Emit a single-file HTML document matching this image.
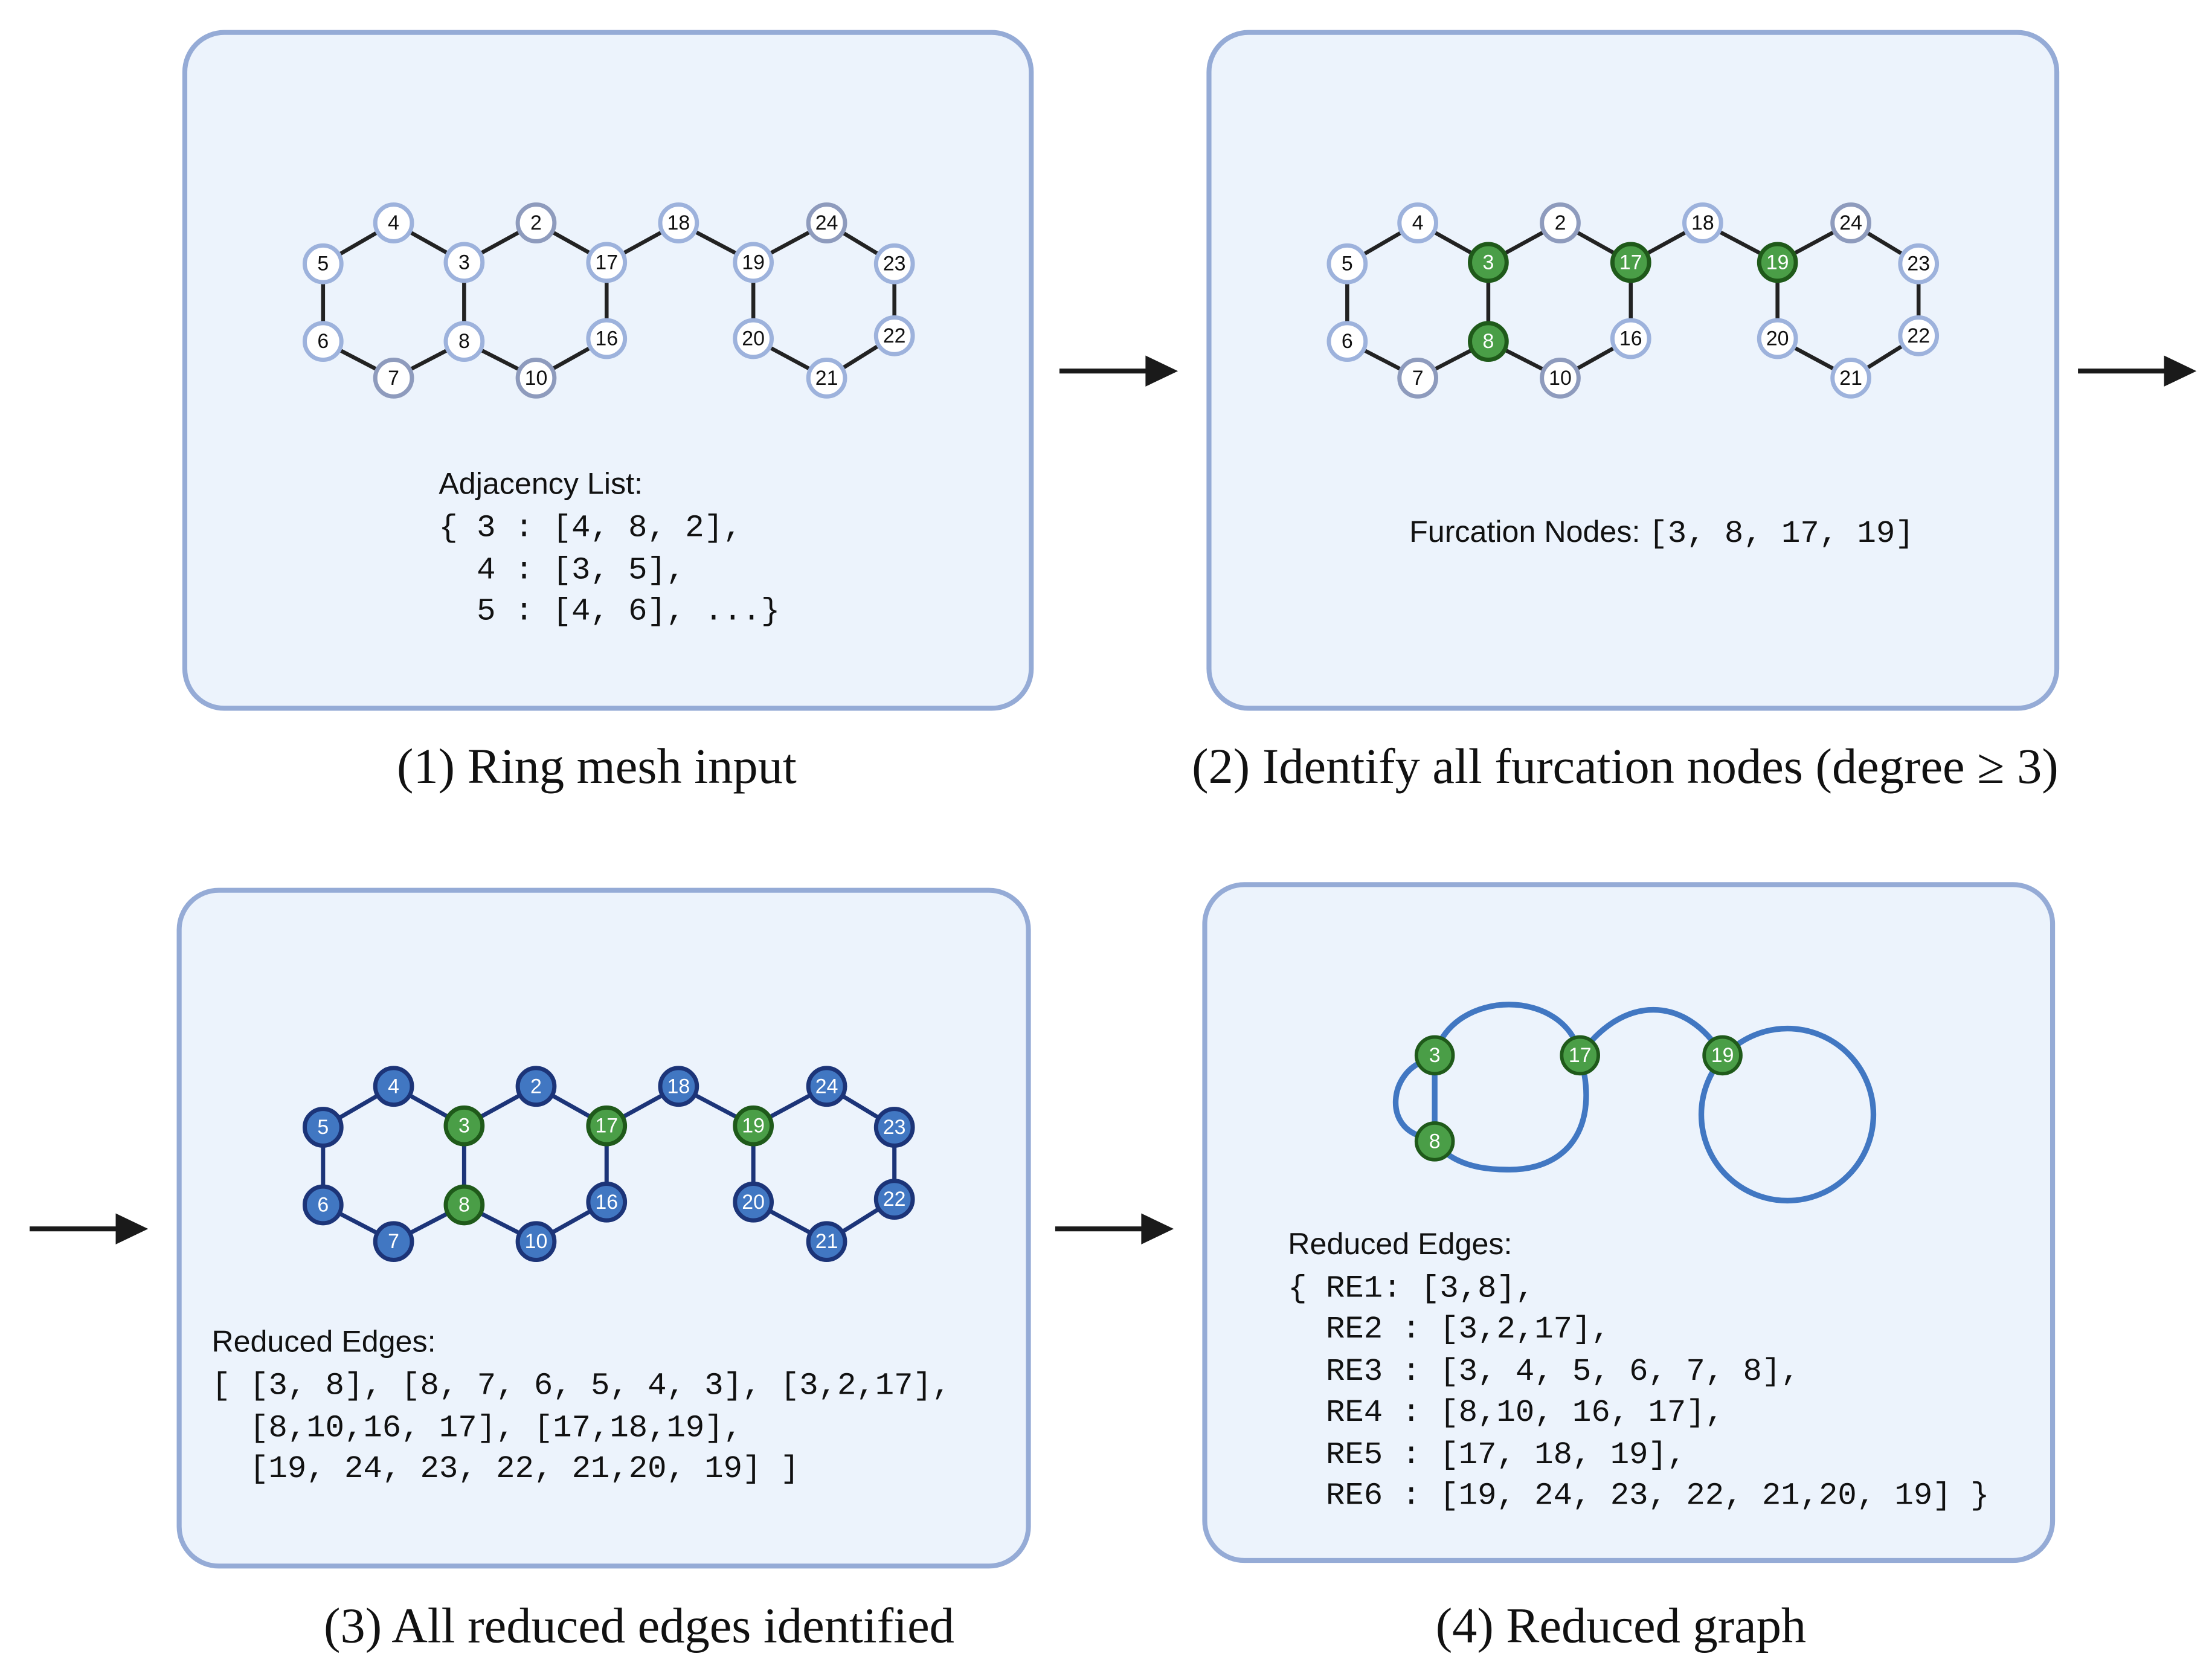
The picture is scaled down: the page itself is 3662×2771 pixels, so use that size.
<!DOCTYPE html>
<html><head><meta charset="utf-8"><style>
html,body{margin:0;padding:0;background:#fff;}
svg{display:block;}
.mono{font-family:"Liberation Mono",monospace;font-size:22.4px;fill:#111;}
.sans{font-family:"Liberation Sans",sans-serif;font-size:21.5px;fill:#111;}
.cap{font-family:"Liberation Serif",serif;font-size:35.3px;fill:#111;}
.nl{font-family:"Liberation Sans",sans-serif;font-size:14.5px;text-anchor:middle;dominant-baseline:central;}
</style></head><body>
<svg width="3662" height="2771" viewBox="0 0 1568 1186.5" xmlns="http://www.w3.org/2000/svg">
<g fill="#ecf3fc" stroke="#95abd6" stroke-width="3.5">
<rect x="131" y="23" width="600" height="479" rx="28"/>
<rect x="857" y="23" width="601" height="479" rx="28"/>
<rect x="127" y="631" width="602" height="479" rx="28"/>
<rect x="854" y="627" width="601" height="479" rx="28"/>
</g>
<g stroke="#1a1a1a" stroke-width="3.5" fill="#1a1a1a">
<line x1="751" y1="263" x2="815" y2="263"/><polygon points="812,252 835,263 812,274" stroke="none"/>
<line x1="1473" y1="263" x2="1537" y2="263"/><polygon points="1534,252 1557,263 1534,274" stroke="none"/>
<line x1="21" y1="871" x2="85" y2="871"/><polygon points="82,860 105,871 82,882" stroke="none"/>
<line x1="748" y1="871" x2="812" y2="871"/><polygon points="809,860 832,871 809,882" stroke="none"/>
</g>
<g id="graphs"></g>
<g fill="none" stroke="#4177c2" stroke-width="4">
<line x1="1017" y1="748" x2="1017" y2="809"/>
<path d="M1010,752 C985,760 980,800 1010,806"/>
<path d="M1017,748 C1030,700 1110,700 1120,748 C1135,800 1110,830 1068,829 C1040,829 1025,820 1017,809"/>
<path d="M1120,748 C1150,705 1195,705 1221,748"/>
<circle cx="1267" cy="790" r="61"/>
</g>
<g stroke="#1f5a1a" stroke-width="2.5" fill="#4a9e47">
<circle cx="1017" cy="748" r="13"/><circle cx="1120" cy="748" r="13"/><circle cx="1221" cy="748" r="13"/><circle cx="1017" cy="809" r="13"/>
</g>
<g class="nl" fill="#fff">
<text x="1017" y="748">3</text><text x="1120" y="748">17</text><text x="1221" y="748">19</text><text x="1017" y="809">8</text>
</g>
<text class="sans" x="311" y="350">Adjacency List:</text>
<text class="mono" x="311" y="380" xml:space="preserve">{ 3 : [4, 8, 2],</text>
<text class="mono" x="311" y="410" xml:space="preserve">  4 : [3, 5],</text>
<text class="mono" x="311" y="439" xml:space="preserve">  5 : [4, 6], ...}</text>
<text x="999" y="384"><tspan class="sans">Furcation Nodes: </tspan><tspan class="mono">[3, 8, 17, 19]</tspan></text>
<text class="sans" x="150" y="958">Reduced Edges:</text>
<text class="mono" x="150" y="988" xml:space="preserve">[ [3, 8], [8, 7, 6, 5, 4, 3], [3,2,17],</text>
<text class="mono" x="150" y="1018" xml:space="preserve">  [8,10,16, 17], [17,18,19],</text>
<text class="mono" x="150" y="1047" xml:space="preserve">  [19, 24, 23, 22, 21,20, 19] ]</text>
<text class="sans" x="913" y="889">Reduced Edges:</text>
<text class="mono" x="913" y="919" xml:space="preserve">{ RE1: [3,8],</text>
<text class="mono" x="913" y="948" xml:space="preserve">  RE2 : [3,2,17],</text>
<text class="mono" x="913" y="978" xml:space="preserve">  RE3 : [3, 4, 5, 6, 7, 8],</text>
<text class="mono" x="913" y="1007" xml:space="preserve">  RE4 : [8,10, 16, 17],</text>
<text class="mono" x="913" y="1037" xml:space="preserve">  RE5 : [17, 18, 19],</text>
<text class="mono" x="913" y="1066" xml:space="preserve">  RE6 : [19, 24, 23, 22, 21,20, 19] }</text>
<text class="cap" x="423" y="555" text-anchor="middle">(1) Ring mesh input</text>
<text class="cap" x="1152" y="555" text-anchor="middle">(2) Identify all furcation nodes (degree ≥ 3)</text>
<text class="cap" x="453" y="1164" text-anchor="middle">(3) All reduced edges identified</text>
<text class="cap" x="1149" y="1164" text-anchor="middle">(4) Reduced graph</text>
<script>
(function(){
var N={4:[279,158],2:[380,158],18:[481,158],24:[586,158],5:[229,187],3:[329,186],17:[430,186],19:[534,186],23:[634,187],6:[229,242],8:[329,242],16:[430,240],20:[534,240],22:[634,238],7:[279,268],10:[380,268],21:[586,268]};
var E=[[5,4],[4,3],[3,2],[2,17],[17,18],[18,19],[19,24],[24,23],[23,22],[22,21],[21,20],[20,19],[17,16],[16,10],[10,8],[8,7],[7,6],[6,5],[3,8]];
var G={3:1,8:1,17:1,19:1};
var ns="http://www.w3.org/2000/svg",root=document.getElementById("graphs");
function el(t,a,p){var e=document.createElementNS(ns,t);for(var k in a)e.setAttribute(k,a[k]);p.appendChild(e);return e;}
var panels=[{dx:0,dy:0,mode:1},{dx:726,dy:0,mode:2},{dx:0,dy:612,mode:3}];
panels.forEach(function(p){
 var g=el("g",{},root);
 E.forEach(function(e){var a=N[e[0]],b=N[e[1]];el("line",{x1:a[0]+p.dx,y1:a[1]+p.dy,x2:b[0]+p.dx,y2:b[1]+p.dy,stroke:p.mode==3?"#1c3478":"#222","stroke-width":p.mode==3?3:2.8},g);});
 for(var k in N){var c=N[k],x=c[0]+p.dx,y=c[1]+p.dy,f,s,tc;
  if(p.mode>1&&G[k]){f="#4a9e47";s="#1f5a1a";tc="#fff";}
  else if(p.mode==3){f="#4177c2";s="#1c3478";tc="#fff";}
  else{f="#fff";s=(k==2||k==7||k==10||k==24)?"#8e9bbd":"#9db2dc";tc="#111";}
  el("circle",{cx:x,cy:y,r:13,fill:f,stroke:s,"stroke-width":3},g);
  var t=el("text",{x:x,y:y,"class":"nl",fill:tc},g);t.textContent=k;}
});
})();
</script>
</svg>
</body></html>
